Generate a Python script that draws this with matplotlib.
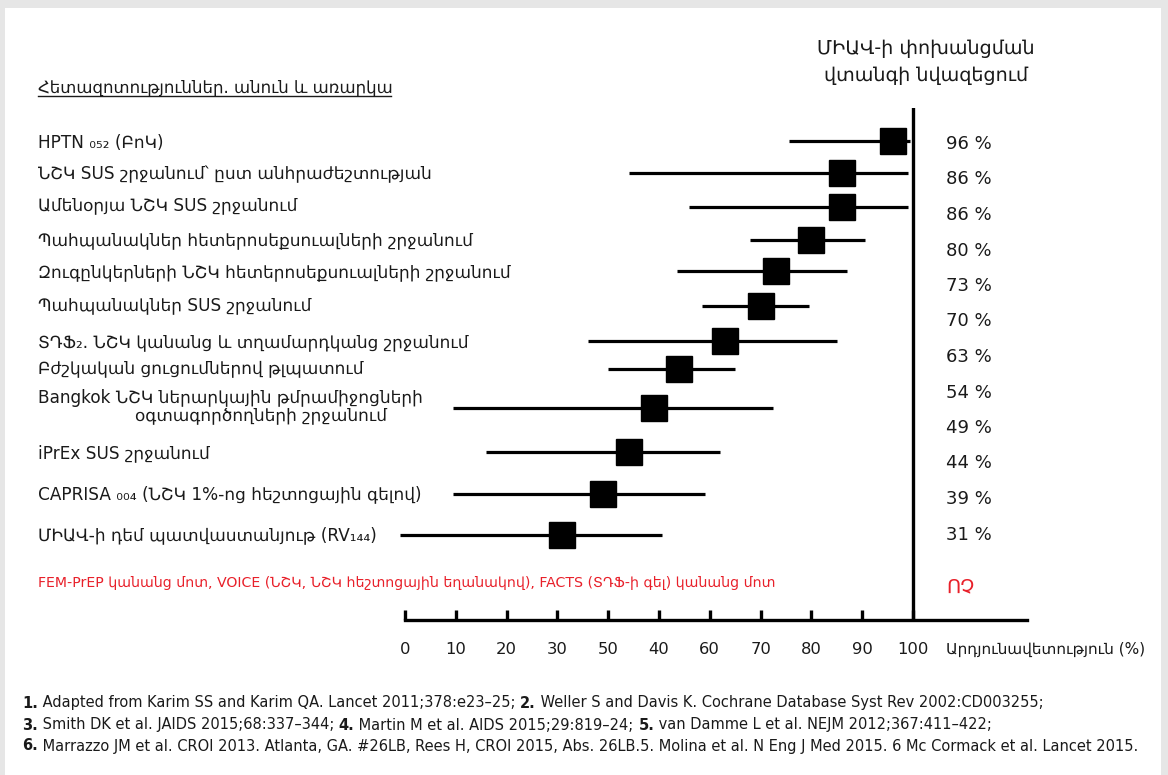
import matplotlib
matplotlib.use("Agg")
import matplotlib.pyplot as plt
from matplotlib.patches import Rectangle
from matplotlib.lines import Line2D
import numpy as np

plt.rcParams['font.family'] = ['DejaVu Sans']

W, H = 1168, 775

# study names (left column)
studies = [
    "HPTN ₀₅₂ (ԲոԿ)",
    "ՆՇԿ SUS շրջանում՝ ըստ անհրաժեշտության",
    "Ամենօրյա ՆՇԿ SUS շրջանում",
    "Պահպանակներ հետերոսեքսուալների շրջանում",
    "Զուգընկերների ՆՇԿ հետերոսեքսուալների շրջանում",
    "Պահպանակներ SUS շրջանում",
    "ՏԴՖ₂. ՆՇԿ կանանց և տղամարդկանց շրջանում",
    "Բժշկական ցուցումներով թլպատում",
    "Bangkok ՆՇԿ ներարկային թմրամիջոցների",
    "iPrEx SUS շրջանում",
    "CAPRISA ₀₀₄ (ՆՇԿ 1%-ոց հեշտոցային գելով)",
    "ՄԻԱՎ-ի դեմ պատվաստանյութ (RV₁₄₄)",
]
bangkok_line2 = "օգտագործողների շրջանում"

# efficacy (%) with confidence interval
efficacy = [96, 86, 86, 80, 73, 70, 63, 54, 49, 44, 39, 31]
ci_low = [75.5, 44, 56, 68, 53.5, 58.5, 36, 40, 9.5, 16, 9.5, -1]
ci_high = [99.5, 99, 99, 90.5, 87, 79.5, 85, 65, 72.5, 62, 59, 50.5]

tick_vals = [0, 10, 20, 30, 40, 50, 60, 70, 80, 90, 100]
tick_labels = ["0", "10", "20", "30", "50", "40", "60", "70", "80", "90", "100"]

no_effect_note = "FEM-PrEP կանանց մոտ, VOICE (ՆՇԿ, ՆՇԿ հեշտոցային եղանակով), FACTS (ՏԴՖ-ի գել) կանանց մոտ"
no_effect_label = "ՈՉ"

references = [
    [("1.", True), (" Adapted from Karim SS and Karim QA. Lancet 2011;378:e23–25; ", False),
     ("2.", True), (" Weller S and Davis K. Cochrane Database Syst Rev 2002:CD003255;", False)],
    [("3.", True), (" Smith DK et al. JAIDS 2015;68:337–344; ", False),
     ("4.", True), (" Martin M et al. AIDS 2015;29:819–24; ", False),
     ("5.", True), (" van Damme L et al. NEJM 2012;367:411–422;", False)],
    [("6.", True), (" Marrazzo JM et al. CROI 2013. Atlanta, GA. #26LB, Rees H, CROI 2015, Abs. 26LB.5. "
                    "Molina et al. N Eng J Med 2015. 6 Mc Cormack et al. Lancet 2015.", False)],
]

# vertical layout (pixel rows)
row_y = [141, 173, 207, 240, 271, 306, 341, 369, 408, 452, 494, 535]
label_y = [143, 174, 205, 240, 272, 305, 342, 368, 398, 453, 494, 535]
pct_y = np.linspace(144, 534.5, 12)

RED = "#e8202a"


def fx(x):
    return x / W


def fy(y):
    return 1 - y / H


fig = plt.figure(figsize=(W / 100, H / 100), dpi=100)
fig.patch.set_facecolor("#e6e6e6")
fig.patches.append(Rectangle((fx(5), 0), fx(1161) - fx(5), fy(8),
                             transform=fig.transFigure, facecolor="white",
                             edgecolor="none", zorder=-5))

# forest plot area: x=0 at 405px, x=100 at 913px, axis line runs to 1027px
x0, x100, xend = 405, 913, 1027
ytop, ybot = 108, 620
ax = fig.add_axes([fx(x0), fy(ybot), fx(xend - x0), (ybot - ytop) / H])
ax.set_facecolor("none")
ax.set_xlim(0, 100 * (xend - x0) / (x100 - x0))
ax.set_ylim(ybot, ytop)
for s in ["top", "left", "right"]:
    ax.spines[s].set_visible(False)
ax.spines["bottom"].set_linewidth(2.4)
ax.set_yticks([])
ax.set_xticks(tick_vals)
ax.set_xticklabels(tick_labels)
ax.tick_params(axis="x", direction="in", length=7.5, width=2.4, pad=16,
               labelsize=11.8, labelcolor="#1a1a1a")

ax.axvline(100, color="black", lw=2.4)
ax.hlines(row_y, ci_low, ci_high, color="black", lw=2.3, clip_on=False)
ax.plot(efficacy, row_y, "s", color="black", ms=19, clip_on=False, zorder=3)

for v, y in zip(efficacy, pct_y):
    ax.text(106.5, y, f"{v} %", fontsize=13, va="center", ha="left", color="#1a1a1a")
ax.text(106.5, 587, no_effect_label, fontsize=14, va="center", ha="left", color=RED)

# headers
fig.text(fx(38), fy(87), "Հետազոտություններ. անուն և առարկա", fontsize=11.9,
         va="center", ha="left", color="#1a1a1a")
fig.add_artist(Line2D([fx(38), fx(391)], [fy(96), fy(96)], color="#1a1a1a", lw=1.0,
                      transform=fig.transFigure))
fig.text(fx(926), fy(62), "ՄԻԱՎ-ի փոխանցման\nվտանգի նվազեցում", fontsize=13.8,
         va="center", ha="center", color="#1a1a1a", linespacing=1.5)

# study labels
for name, y in zip(studies, label_y):
    fig.text(fx(38), fy(y), name, fontsize=12.2, va="center", ha="left", color="#1a1a1a")
fig.text(fx(135), fy(415), bangkok_line2, fontsize=12.2, va="center", ha="left", color="#1a1a1a")

fig.text(fx(38), fy(583), no_effect_note, fontsize=10.2, va="center", ha="left", color=RED)

fig.text(fx(946), fy(649), "Արդյունավետություն (%)", fontsize=11.0, va="center",
         ha="left", color="#1a1a1a")

# references, drawn piece by piece so the numbers can be bold
fig.canvas.draw()
renderer = fig.canvas.get_renderer()
for line, y in zip(references, [703, 725, 746]):
    x = 22
    for txt, bold in line:
        t = fig.text(fx(x), fy(y), txt, fontsize=10.5, va="center", ha="left",
                     color="#1a1a1a", fontweight="bold" if bold else "normal")
        bb = t.get_window_extent(renderer)
        x += bb.width

fig.savefig("out.png", dpi=100, facecolor=fig.get_facecolor())
